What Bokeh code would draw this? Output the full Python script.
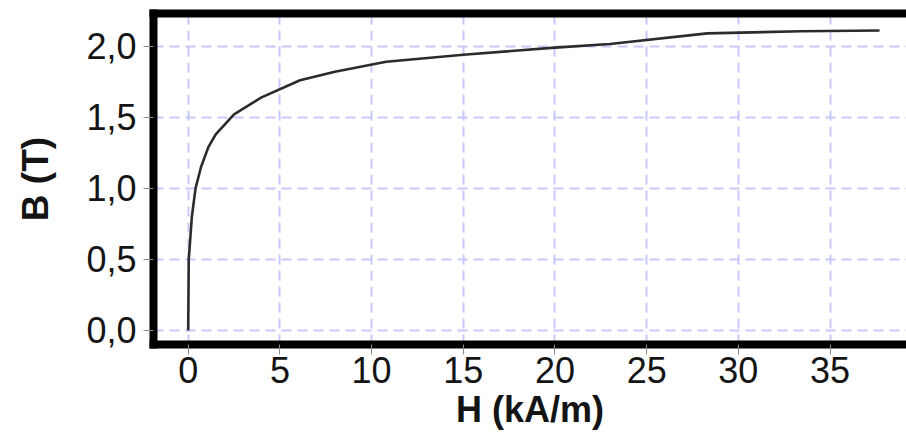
from bokeh.plotting import figure
from bokeh.models import Range1d, FixedTicker, LinearAxis, CustomJSTickFormatter
from bokeh.embed import file_html
from bokeh.resources import INLINE

# Magnetisation curve B(H)
H_kA_m = [0, 0.03, 0.2, 0.4, 0.7, 1.1, 1.5, 2.0, 2.5, 4.0, 6.1, 8.0, 10.8, 15.0, 20.0, 23.0, 28.3, 33.4, 37.7]
B_T = [0, 0.5, 0.8, 1.0, 1.15, 1.29, 1.38, 1.45, 1.52, 1.64, 1.76, 1.82, 1.89, 1.94, 1.99, 2.015, 2.09, 2.105, 2.11]

x_ticks = [0, 5, 10, 15, 20, 25, 30, 35]
y_ticks = [0.0, 0.5, 1.0, 1.5, 2.0]
x_title = "H (kA/m)"
y_title = "B (T)"

FONT = "Liberation Sans"
TXT = "#141414"

p = figure(width=906, height=432,
           x_range=Range1d(-1.892, 39.17), y_range=Range1d(-0.0986, 2.230),
           output_backend="svg", toolbar_location=None,
           min_border_left=153, min_border_right=0, min_border_top=13, min_border_bottom=88)
p.outline_line_color = None
p.background_fill_color = "white"
p.border_fill_color = "white"

for ax in (p.xaxis[0], p.yaxis[0]):
    ax.axis_line_width = 8
    ax.axis_line_color = "black"
    ax.axis_line_cap = "square"
    ax.major_tick_in = 0
    ax.major_tick_out = 10
    ax.major_tick_line_color = "#8a8a8a"
    ax.major_tick_line_width = 1
    ax.minor_tick_line_color = None
    ax.major_label_text_font = FONT
    ax.major_label_text_font_size = "36px"
    ax.major_label_text_color = TXT
    ax.axis_label_text_font = FONT
    ax.axis_label_text_font_style = "bold"
    ax.axis_label_text_color = TXT

xa, ya = p.xaxis[0], p.yaxis[0]
xa.ticker = FixedTicker(ticks=x_ticks)
xa.major_label_standoff = 2
xa.axis_label = x_title
xa.axis_label_text_font_size = "36px"
xa.axis_label_standoff = 3

ya.ticker = FixedTicker(ticks=y_ticks)
ya.major_label_standoff = 7
ya.formatter = CustomJSTickFormatter(code="return tick.toFixed(1).replace('.', ',');")
ya.axis_label = y_title
ya.axis_label_text_font_size = "37px"
ya.axis_label_standoff = 27

top = LinearAxis(ticker=FixedTicker(ticks=[]), axis_line_width=8, axis_line_color="black",
                 axis_line_cap="square", major_tick_line_color=None, minor_tick_line_color=None,
                 major_label_text_font_size="0px")
p.add_layout(top, "above")

for g in (p.xgrid[0], p.ygrid[0]):
    g.grid_line_color = "#c8c8ff"
    g.grid_line_width = 2
    g.grid_line_dash = "10 6"

p.line(H_kA_m, B_T, line_color="#2b2b2b", line_width=2.6)

open("out.html", "w").write(file_html(p, INLINE))
